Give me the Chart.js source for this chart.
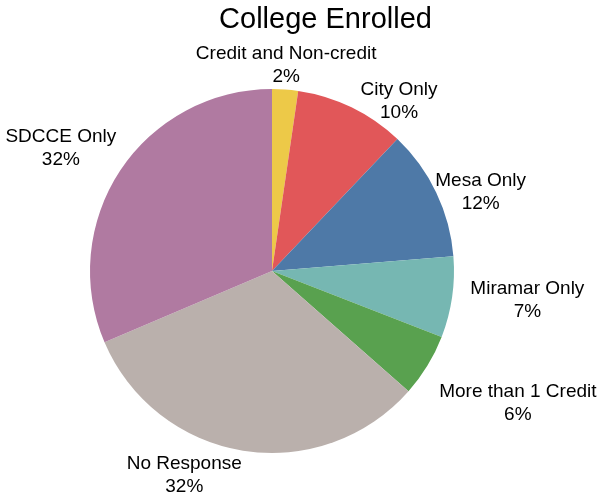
<!DOCTYPE html>
<html>
<head>
<meta charset="utf-8">
<script src="https://cdn.jsdelivr.net/npm/chart.js@4/dist/chart.umd.min.js"></script>
<style>
  html, body { margin: 0; padding: 0; background: #fff; }
  #wrap { width: 601px; height: 498px; }
</style>
</head>
<body>
<div id="wrap"><canvas id="myChart"></canvas></div>
<script>
// data (share of respondents, %)
const categories = ['Credit and Non-credit', 'City Only', 'Mesa Only', 'Miramar Only',
                    'More than 1 Credit', 'No Response', 'SDCCE Only'];
const shares = [2.3, 9.8, 11.6, 7.2, 5.6, 32.1, 31.4];
const pctLabels = ['2%', '10%', '12%', '7%', '6%', '32%', '32%'];
const colors = ['#EDC948', '#E15759', '#4E79A7', '#76B7B2', '#59A14F', '#BAB0AC', '#B07AA1'];

// where each label sits, relative to its slice: [angle shift in degrees, px beyond the rim]
const labelShift = [[-0.2, 24], [10.9, 30], [4.9, 41], [-1.8, 75], [-3.1, 97], [14.1, 40], [-3.4, 62]];

const ctx = document.getElementById('myChart').getContext('2d');

const pieLabels = {
    id: 'pieLabels',
    afterDraw(chart) {
        const c = chart.ctx;
        c.save();
        c.fillStyle = '#000';
        c.textAlign = 'center';

        // title
        c.font = '29px "Liberation Sans", Arial, sans-serif';
        c.textBaseline = 'alphabetic';
        c.fillText('College Enrolled', chart.width / 2 + 25, 28);

        c.font = '19px "Liberation Sans", Arial, sans-serif';
        c.textBaseline = 'middle';
        chart.getDatasetMeta(0).data.forEach(function(arc, i) {
            const mid = (arc.startAngle + arc.endAngle) / 2 + labelShift[i][0] * Math.PI / 180;
            const r = arc.outerRadius + labelShift[i][1];
            const x = arc.x + r * Math.cos(mid);
            const y = arc.y + r * Math.sin(mid);
            c.fillText(categories[i], x, y - 11.5);
            c.fillText(pctLabels[i], x, y + 11.5);
        });
        c.restore();
    }
};

var graphData = {
    type: 'pie',
    data: {
        labels: categories,
        datasets: [{
            data: shares,
            backgroundColor: colors,
            borderWidth: 0
        }]
    },
    options: {
        responsive: true,
        maintainAspectRatio: false,
        animation: false,
        layout: { padding: { left: 90, right: 147, top: 89, bottom: 45 } },
        plugins: {
            legend: { display: false },
            tooltip: { enabled: false },
            title: { display: false }
        }
    },
    plugins: [pieLabels]
};

const myChart = new Chart(ctx, graphData);
</script>
</body>
</html>
